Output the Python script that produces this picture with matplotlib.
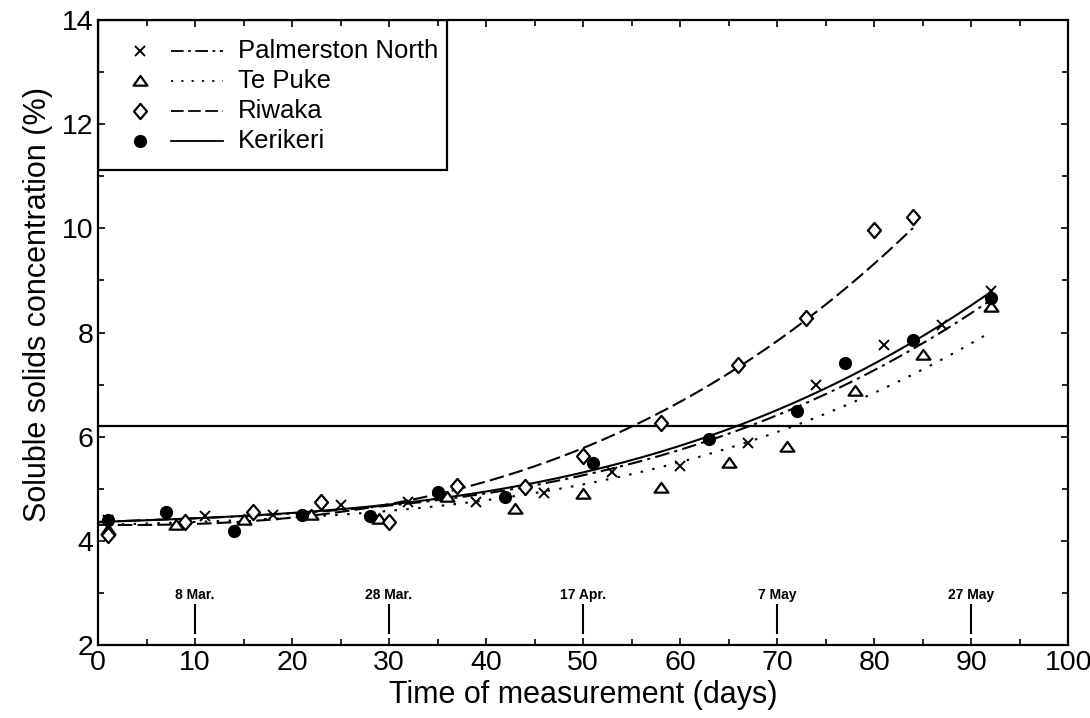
import numpy as np
import matplotlib.pyplot as plt
from matplotlib.patches import Rectangle
from matplotlib.path import Path
from matplotlib.ticker import MultipleLocator

plt.rcParams['font.family'] = ['Liberation Sans', 'DejaVu Sans']

# Messwerte (Tage, Trockensubstanz %)
pn_days = [1, 11, 18, 25, 32, 39, 46, 53, 60, 67, 74, 81, 87, 92]
pn_ssc = [4.40, 4.48, 4.50, 4.69, 4.74, 4.75, 4.92, 5.33, 5.44, 5.88, 7.00, 7.76, 8.15, 8.80]

tp_days = [1, 8, 15, 22, 29, 36, 43, 50, 58, 65, 71, 78, 85, 92]
tp_ssc = [4.20, 4.31, 4.40, 4.49, 4.42, 4.85, 4.61, 4.90, 5.01, 5.50, 5.81, 6.87, 7.57, 8.50]

rw_days = [1, 9, 16, 23, 30, 37, 44, 50, 58, 66, 73, 80, 84]
rw_ssc = [4.12, 4.37, 4.56, 4.74, 4.36, 5.06, 5.03, 5.63, 6.27, 7.38, 8.27, 9.97, 10.21]

kk_days = [1, 7, 14, 21, 28, 35, 42, 51, 63, 72, 77, 84, 92]
kk_ssc = [4.40, 4.56, 4.18, 4.49, 4.47, 4.93, 4.85, 5.49, 5.95, 6.50, 7.41, 7.86, 8.66]

# Stuetzstellen der Ausgleichskurven
pn_curve_days = [0, 20, 30, 40, 50, 60, 67, 83, 92]
pn_curve_ssc = [4.35, 4.55, 4.70, 4.93, 5.20, 5.70, 6.20, 7.70, 8.55]

tp_curve_days = [0, 19, 31, 49, 59, 66, 72, 84, 92]
tp_curve_ssc = [4.30, 4.44, 4.60, 5.04, 5.45, 5.85, 6.20, 7.25, 7.98]

rw_curve_days = [0, 31, 37, 49, 56, 70, 84]
rw_curve_ssc = [4.30, 4.79, 5.00, 5.63, 6.23, 7.95, 9.97]

kk_curve_days = [0, 20, 30, 40, 50, 58, 62, 66, 71, 83, 92]
kk_curve_ssc = [4.35, 4.55, 4.72, 4.97, 5.25, 5.71, 5.95, 6.20, 6.55, 7.86, 8.70]

threshold = 6.2
date_days = [10, 30, 50, 70, 90]
date_labels = ['8 Mar.', '28 Mar.', '17 Apr.', '7 May', '27 May']

# flache Marker wie im Original
tri = Path([(-1, -0.6), (1, -0.6), (0, 0.8), (-1, -0.6)],
           [Path.MOVETO, Path.LINETO, Path.LINETO, Path.CLOSEPOLY])
dia = Path([(0, 1), (0.85, 0), (0, -1), (-0.85, 0), (0, 1)],
           [Path.MOVETO, Path.LINETO, Path.LINETO, Path.LINETO, Path.CLOSEPOLY])

fig = plt.figure(figsize=(10.9, 7.18), dpi=100)
ax = fig.add_axes([0.0899, 0.1017, 0.8901, 0.8703])

series = [
    (pn_days, pn_ssc, pn_curve_days, pn_curve_ssc,
     dict(marker='x', ms=7, mew=1.4, color='black'),
     dict(dashes=(7, 2.5, 1.5, 2.5)), 'Palmerston North'),
    (tp_days, tp_ssc, tp_curve_days, tp_curve_ssc,
     dict(marker=tri, ms=10, mew=1.6, mec='black', mfc='white'),
     dict(dashes=(1.2, 4.5)), 'Te Puke'),
    (rw_days, rw_ssc, rw_curve_days, rw_curve_ssc,
     dict(marker=dia, ms=11, mew=1.6, mec='black', mfc='white'),
     dict(dashes=(7, 2.5)), 'Riwaka'),
    (kk_days, kk_ssc, kk_curve_days, kk_curve_ssc,
     dict(marker='o', ms=8.5, color='black'),
     dict(linestyle='-'), 'Kerikeri'),
]

for days, ssc, cd, cs, mk, ls, name in series:
    p = np.polyfit(cd, cs, 3)
    tt = np.linspace(0, max(cd), 300)
    ax.plot(tt, np.polyval(p, tt), color='black', lw=1.5, zorder=2, **ls)
    ax.plot(days, ssc, linestyle='none', zorder=3, **mk)

ax.axhline(threshold, color='black', lw=1.6, zorder=1)

# Datumsmarken
for d, lab in zip(date_days, date_labels):
    ax.plot([d, d], [2.23, 2.77], color='black', lw=1.5)
    ax.text(d, 2.88, lab, ha='center', va='baseline', fontsize=10, fontweight='bold')

ax.set_xlim(0, 100)
ax.set_ylim(2, 14)
ax.xaxis.set_major_locator(MultipleLocator(10))
ax.xaxis.set_minor_locator(MultipleLocator(5))
ax.yaxis.set_major_locator(MultipleLocator(2))
ax.yaxis.set_minor_locator(MultipleLocator(1))
ax.tick_params(which='both', direction='in', top=True, right=True, labelsize=20.5, width=1.2)
ax.tick_params(which='major', length=5)
ax.tick_params(which='minor', length=4)
for s in ax.spines.values():
    s.set_linewidth(1.6)

ax.set_xlabel('Time of measurement (days)', fontsize=22, labelpad=3)
ax.set_ylabel('Soluble solids concentration (%)', fontsize=22)
ax.yaxis.set_label_coords(-0.046, 0.545)

# Legende als Kasten oben links
tr = ax.transAxes
ax.add_patch(Rectangle((0, 0.76), 0.36, 0.24, transform=tr, fill=False,
                       lw=1.6, edgecolor='black', zorder=4))
rows = [0.95, 0.903, 0.855, 0.807]
for (days, ssc, cd, cs, mk, ls, name), yy in zip(series, rows):
    ax.plot([0.043], [yy], transform=tr, linestyle='none', zorder=5, **mk)
    ax.plot([0.075, 0.129], [yy, yy], transform=tr, color='black', lw=1.3, zorder=5, **ls)
    ax.text(0.144, yy, name, transform=tr, va='center', ha='left', fontsize=18.5, zorder=5)

fig.savefig('out.png', dpi=100)
